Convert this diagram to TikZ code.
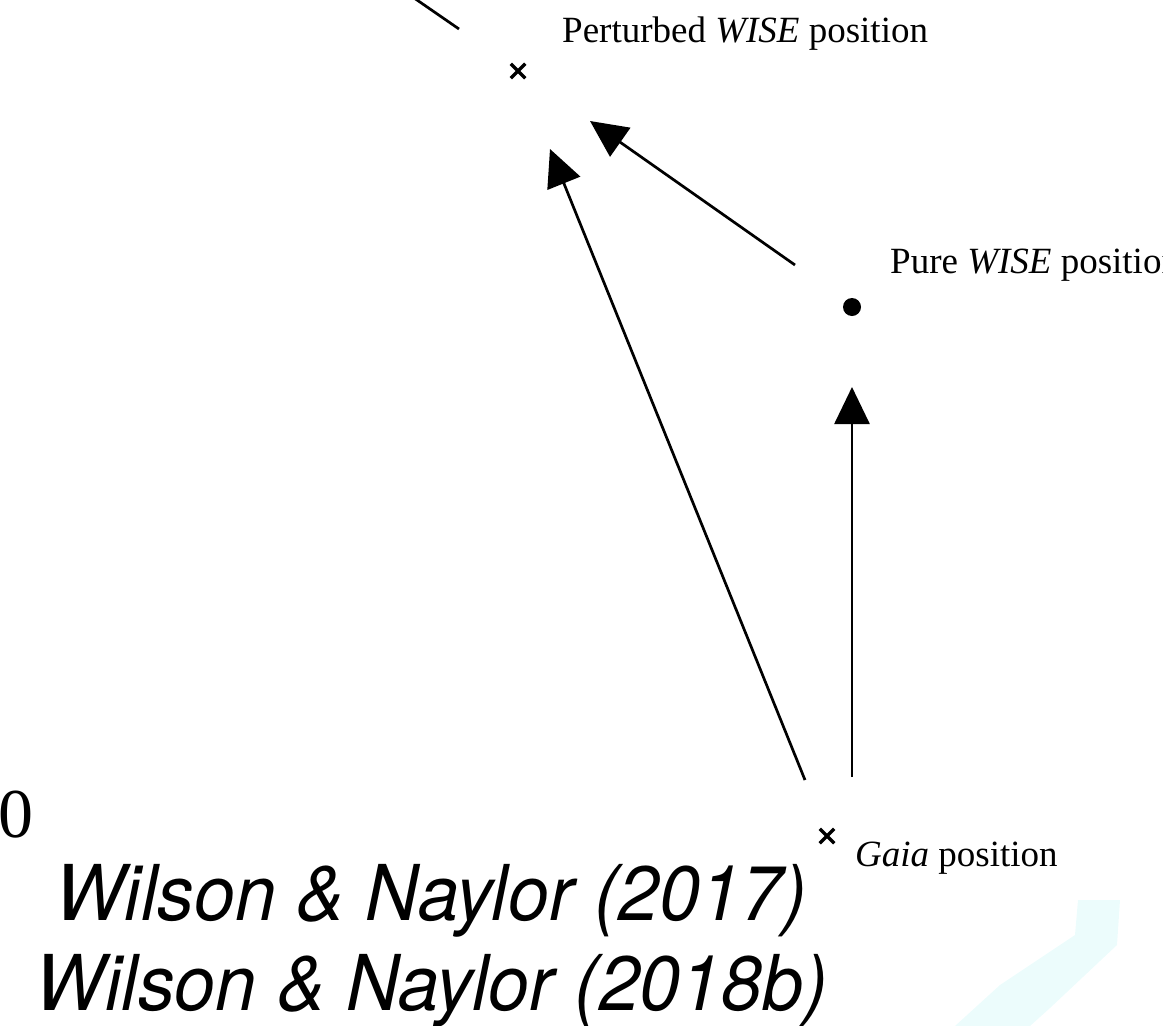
\documentclass[tikz,border=0pt]{standalone}
\usepackage{fontspec}
\setmainfont{Liberation Serif}
\newfontfamily\wnfont{TeX Gyre Heros}
\usetikzlibrary{arrows.meta,shapes.misc}
\definecolor{palecyan}{RGB}{236,252,252}
\begin{document}
\begin{tikzpicture}[x=1pt,y=-1pt,
  arr/.style={line width=2.7pt,-{Triangle[length=37pt,width=35pt]}},
  xmark/.style={cross out,draw,minimum size=11pt,inner sep=0pt,line width=3.5pt},
  lbl/.style={inner sep=0pt,anchor=base west,font=\fontsize{37}{44}\selectfont},
  cite/.style={inner sep=0pt,anchor=base,font=\wnfont\itshape\fontsize{77}{92}\selectfont}]
\useasboundingbox (0,0) rectangle (1163,1026);
\clip (0,0) rectangle (1163,1026);
% pale cyan shape
\fill[palecyan] (1078,900) -- (1120,900) -- (1117,945) -- (1050,1008) -- (1030,1026)
  -- (955,1026) -- (1000,985) -- (1075,935) -- cycle;
% markers
\node[xmark] (pert) at (518,71) {};
\node[xmark] (gaia) at (827,836) {};
\node[circle,fill,minimum size=18pt,inner sep=0pt] (pure) at (852,307) {};
% labels
\node[lbl] (pertlbl) at (562,42) {Perturbed \textit{WISE} position};
\node[lbl] (purelbl) at (890,273) {Pure \textit{WISE} position};
\node[lbl] (gaialbl) at (855,866) {\textit{Gaia} position};
\node[inner sep=0pt,anchor=base west,font=\fontsize{70}{84}\selectfont] (zero) at (-2,837) {0};
\node[cite] (cite1) at (431,920) {\scalebox{0.955}[1]{Wilson \& Naylor (2017)}};
\node[cite] (cite2) at (432,1010) {\scalebox{0.955}[1]{Wilson \& Naylor (2018b)}};
% arrow endpoints
\coordinate (a1s) at (805,780);
\coordinate (a1e) at (550,149);
\coordinate (a2s) at (795,265);
\coordinate (a2e) at (590,121);
\coordinate (a3s) at (852,777);
\coordinate (a3e) at (852,387);
\coordinate (t0s) at (375,-29);
\coordinate (t0e) at (459,29);
\draw[arr] (a1s) -- (a1e);
\draw[arr] (a2s) -- (a2e);
\draw[arr] (a3s) -- (a3e);
\draw[line width=2.7pt] (t0s) -- (t0e);
\end{tikzpicture}
\end{document}
